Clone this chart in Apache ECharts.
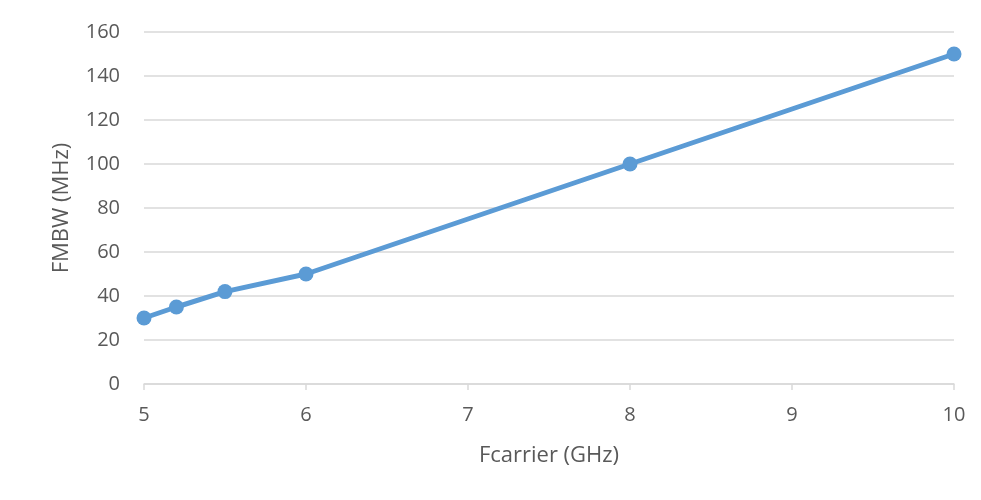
<!DOCTYPE html>
<html><head><meta charset="utf-8">
<script src="https://cdn.jsdelivr.net/npm/echarts@6/dist/echarts.min.js"></script>
<style>html,body{margin:0;padding:0;background:#fff}#c{width:981px;height:500px}</style>
</head><body><div id="c"></div>
<script>
const xValues = [5, 5.2, 5.5, 6, 8, 10];
const yValues = [30, 35, 42, 50, 100, 150];
const xAxisName = 'Fcarrier (GHz)';
const yAxisName = 'FMBW (MHz)';

const font = '"Open Sans", "Liberation Sans", sans-serif';
const txt = '#595959';
const chart = echarts.init(document.getElementById('c'), null, {renderer: 'canvas'});
chart.setOption({
  animation: false,
  backgroundColor: '#fff',
  grid: {left: 144, right: 27, top: 32, bottom: 116, containLabel: false},
  xAxis: {
    type: 'value', min: 5, max: 10, interval: 1,
    name: xAxisName, nameLocation: 'middle', nameGap: 61,
    nameTextStyle: {color: txt, fontSize: 22, fontFamily: font},
    axisLine: {show: true, lineStyle: {color: '#d9d9d9', width: 1.5}},
    axisTick: {show: true, length: 6, lineStyle: {color: '#d9d9d9', width: 1.5}},
    axisLabel: {color: txt, fontSize: 20, fontFamily: font, margin: 21},
    splitLine: {show: false}
  },
  yAxis: {
    type: 'value', min: 0, max: 160, interval: 20,
    name: yAxisName, nameLocation: 'middle', nameGap: 71, nameRotate: 90,
    nameTextStyle: {color: txt, fontSize: 22, fontFamily: font},
    axisLine: {show: false}, axisTick: {show: false},
    axisLabel: {color: txt, fontSize: 20, fontFamily: font, margin: 24},
    splitLine: {show: true, lineStyle: {color: '#d9d9d9', width: 1.5}}
  },
  series: [{
    type: 'line',
    data: xValues.map((x, i) => [x, yValues[i]]),
    lineStyle: {color: '#5b9bd5', width: 5},
    itemStyle: {color: '#5b9bd5'},
    symbol: 'circle', symbolSize: 15,
    z: 3
  }]
});
</script></body></html>
